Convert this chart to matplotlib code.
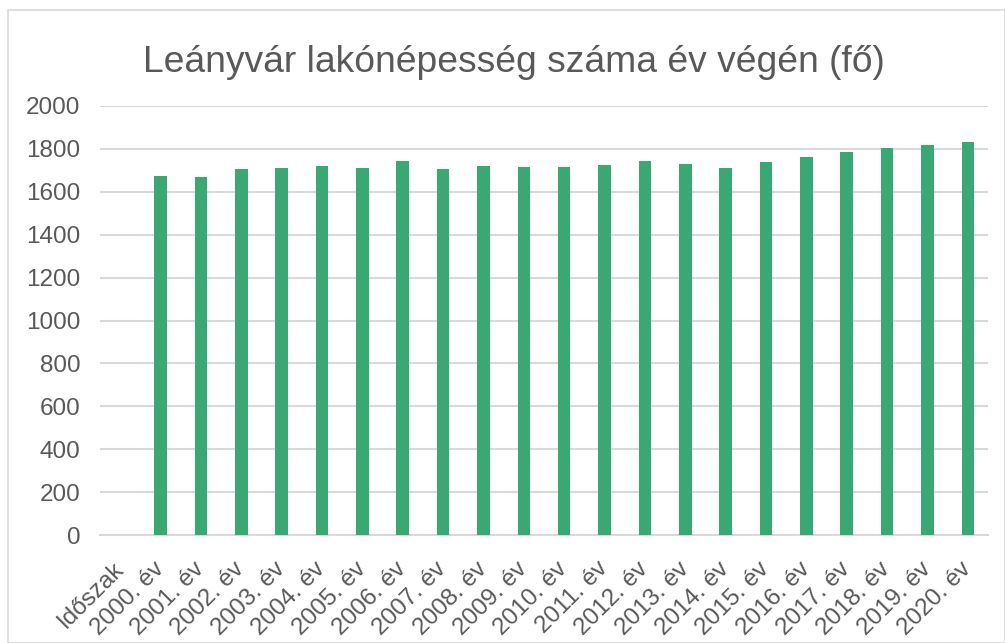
import matplotlib
matplotlib.use("Agg")
import matplotlib.pyplot as plt
from matplotlib.patches import Rectangle

categories = ["Időszak", "2000. év", "2001. év", "2002. év", "2003. év", "2004. év",
              "2005. év", "2006. év", "2007. év", "2008. év", "2009. év", "2010. év",
              "2011. év", "2012. év", "2013. év", "2014. év", "2015. év", "2016. év",
              "2017. év", "2018. év", "2019. év", "2020. év"]
values = [None, 1674, 1671, 1707, 1713, 1721, 1713, 1743, 1706, 1721, 1715, 1715,
          1727, 1743, 1731, 1712, 1737, 1761, 1787, 1805, 1817, 1834]
yticks = [0, 200, 400, 600, 800, 1000, 1200, 1400, 1600, 1800, 2000]
title = "Leányvár lakónépesség száma év végén (fő)"

W, H = 1005, 643
fig = plt.figure(figsize=(W / 100, H / 100), dpi=100)
plt.rcParams['font.family'] = ['Liberation Sans', 'DejaVu Sans']

ax = fig.add_axes([100 / W, 1 - 535 / H, (988 - 100) / W, (535 - 106) / H])

xs = list(range(len(categories)))
bx = [x for x, v in zip(xs, values) if v is not None]
bv = [v for v in values if v is not None]
ax.bar(bx, bv, width=0.31, color="#3AA872", zorder=3)

ax.set_xlim(-0.5, len(categories) - 0.5)
ax.set_ylim(0, 2000)
ax.set_yticks(yticks)
ax.set_yticklabels([str(t) for t in yticks])
ax.grid(axis='y', color='#D9D9D9', linewidth=1.5, zorder=0)
for s in ['top', 'right', 'left']:
    ax.spines[s].set_visible(False)
ax.spines['bottom'].set_color('#D9D9D9')
ax.spines['bottom'].set_linewidth(1.5)
ax.tick_params(axis='both', length=0, labelsize=17.5, labelcolor='#595959')
ax.tick_params(axis='y', pad=14)
ax.set_xticks(xs)
ax.set_xticklabels(categories, rotation=45, ha='right', va='center',
                   rotation_mode='anchor')
ax.tick_params(axis='x', pad=22)

fig.text(514 / W, 1 - 72 / H, title, ha='center', va='baseline',
         fontsize=26.8, color='#595959')

fig.patches.append(Rectangle((8 / W, 0.5 / H), (W - 8.5) / W, (H - 10.5) / H,
                             transform=fig.transFigure, fill=False,
                             edgecolor='#D9D9D9', linewidth=1.2))

fig.savefig("out.png", dpi=100)
